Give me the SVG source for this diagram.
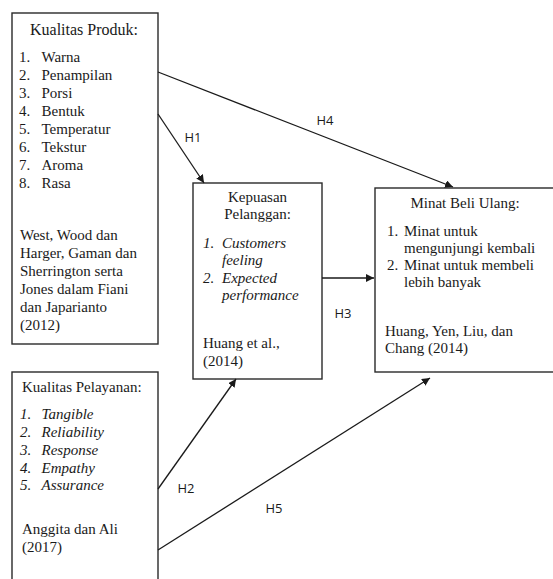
<svg xmlns="http://www.w3.org/2000/svg" width="553" height="579" viewBox="0 0 553 579">
<style>
.box{fill:#fff;stroke:#2a2a2a;stroke-width:1.4}
.t{font-family:"Liberation Serif","Times New Roman",serif;font-size:15px;fill:#1a1a1a}
.i{font-style:italic}
.c{text-anchor:middle}
.lbl{font-family:"Open Sans","Liberation Sans",sans-serif;font-size:13px;fill:#1a1a1a;text-anchor:middle}
.ln{stroke:#1a1a1a;stroke-width:1.3;fill:none}
</style>
<defs>
<marker id="ah" viewBox="0 0 10 10" refX="10" refY="5" markerWidth="8" markerHeight="8" markerUnits="userSpaceOnUse" orient="auto">
<path d="M0,0 L10,5 L0,10 z" fill="#1a1a1a"/>
</marker>
</defs>
<rect width="553" height="579" fill="#fff"/>
<g id="produk">
<rect class="box" x="12" y="13" width="146" height="331"/>
<text class="t c" x="84" y="35" style="font-size:16px">Kualitas Produk:</text>
<text class="t" x="19" y="62">1.</text><text class="t" x="41.5" y="62">Warna</text>
<text class="t" x="19" y="80">2.</text><text class="t" x="41.5" y="80">Penampilan</text>
<text class="t" x="19" y="98">3.</text><text class="t" x="41.5" y="98">Porsi</text>
<text class="t" x="19" y="116">4.</text><text class="t" x="41.5" y="116">Bentuk</text>
<text class="t" x="19" y="134">5.</text><text class="t" x="41.5" y="134">Temperatur</text>
<text class="t" x="19" y="152">6.</text><text class="t" x="41.5" y="152">Tekstur</text>
<text class="t" x="19" y="170">7.</text><text class="t" x="41.5" y="170">Aroma</text>
<text class="t" x="19" y="188">8.</text><text class="t" x="41.5" y="188">Rasa</text>
<text class="t" x="20" y="240">West, Wood dan</text>
<text class="t" x="20" y="258">Harger, Gaman dan</text>
<text class="t" x="20" y="276">Sherrington serta</text>
<text class="t" x="20" y="294">Jones dalam Fiani</text>
<text class="t" x="20" y="312">dan Japarianto</text>
<text class="t" x="20" y="330">(2012)</text>
</g>
<g id="pelayanan">
<rect class="box" x="12" y="372" width="146" height="220"/>
<text class="t" x="22" y="392">Kualitas Pelayanan:</text>
<text class="t i" x="20" y="419">1.</text><text class="t i" x="41.5" y="419">Tangible</text>
<text class="t i" x="20" y="437">2.</text><text class="t i" x="41.5" y="437">Reliability</text>
<text class="t i" x="20" y="455">3.</text><text class="t i" x="41.5" y="455">Response</text>
<text class="t i" x="20" y="473">4.</text><text class="t i" x="41.5" y="473">Empathy</text>
<text class="t i" x="20" y="490">5.</text><text class="t i" x="41.5" y="490">Assurance</text>
<text class="t" x="22" y="534">Anggita dan Ali</text>
<text class="t" x="22" y="552">(2017)</text>
</g>
<g id="kepuasan">
<rect class="box" x="193" y="183" width="129" height="196"/>
<text class="t c" x="257.5" y="202">Kepuasan</text>
<text class="t c" x="257.5" y="219">Pelanggan:</text>
<text class="t i" x="203" y="248">1.</text><text class="t i" x="222" y="248">Customers</text>
<text class="t i" x="222" y="265">feeling</text>
<text class="t i" x="203" y="283">2.</text><text class="t i" x="222" y="283">Expected</text>
<text class="t i" x="222" y="300">performance</text>
<text class="t" x="203" y="348">Huang et al.,</text>
<text class="t" x="203" y="366">(2014)</text>
</g>
<g id="minat">
<rect class="box" x="375" y="188" width="190" height="184"/>
<text class="t c" x="465" y="208">Minat Beli Ulang:</text>
<text class="t" x="387" y="236">1.</text><text class="t" x="404" y="236">Minat untuk</text>
<text class="t" x="404" y="253">mengunjungi kembali</text>
<text class="t" x="387" y="270">2.</text><text class="t" x="404" y="270">Minat untuk membeli</text>
<text class="t" x="404" y="287">lebih banyak</text>
<text class="t" x="385" y="336">Huang, Yen, Liu, dan</text>
<text class="t" x="385" y="353">Chang (2014)</text>
</g>
<g id="connectors">
<line class="ln" x1="158" y1="72" x2="453" y2="187" marker-end="url(#ah)"/>
<line class="ln" x1="158" y1="114" x2="204" y2="183" marker-end="url(#ah)"/>
<line class="ln" x1="322" y1="278" x2="374" y2="278" marker-end="url(#ah)"/>
<line class="ln" x1="158" y1="489" x2="236" y2="379" marker-end="url(#ah)"/>
<line class="ln" x1="158" y1="550" x2="430" y2="378" marker-end="url(#ah)"/>
<text class="lbl" x="193" y="142">H1</text>
<text class="lbl" x="325" y="125">H4</text>
<text class="lbl" x="343" y="318">H3</text>
<text class="lbl" x="186" y="493">H2</text>
<text class="lbl" x="274" y="513">H5</text>
</g>
</svg>
